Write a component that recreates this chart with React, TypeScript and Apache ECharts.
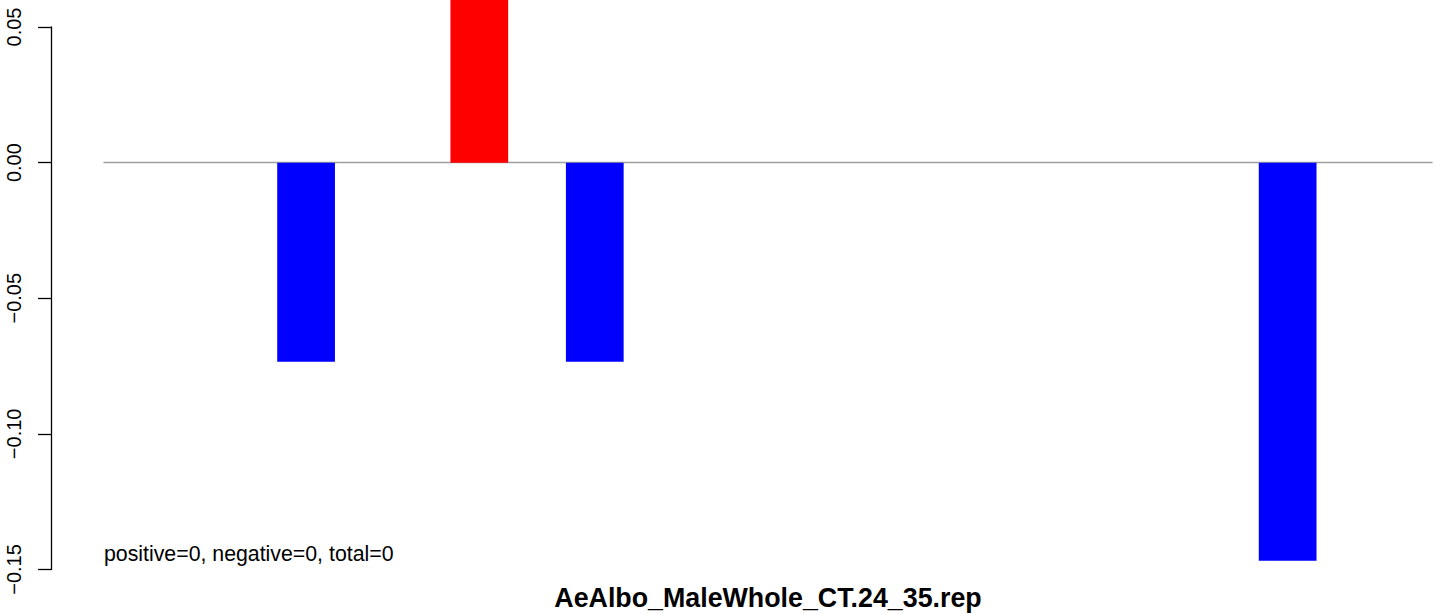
import React, { useEffect, useRef } from "react";
import * as echarts from "echarts";

const categories: string[] = Array.from({ length: 23 }, (_, i) => String(i + 1));
const values: number[] = [
  0, 0, 0, -0.0734, 0, 0, 0.0734, 0, -0.0734, 0, 0, 0,
  0, 0, 0, 0, 0, 0, 0, 0, -0.1468, 0, 0,
];
const yTicks = { min: -0.15, max: 0.05, interval: 0.05 };
const titleText = "AeAlbo_MaleWhole_CT.24_35.rep";
const noteText = "positive=0, negative=0, total=0";

const FONT = "'Liberation Sans', Arial, Helvetica, sans-serif";

export default function App() {
  const ref = useRef<HTMLDivElement>(null);
  useEffect(() => {
    if (!ref.current) return;
    const chart = echarts.init(ref.current, undefined, { renderer: "svg" });
    chart.setOption({
      animation: false,
      backgroundColor: "#ffffff",
      grid: { left: 104, right: 20, top: 27, bottom: 44.5, containLabel: false },
      xAxis: {
        type: "category",
        data: categories,
        axisLine: { show: true, onZero: true, lineStyle: { color: "#9e9e9e", width: 1.4 } },
        axisTick: { show: false },
        axisLabel: { show: false },
        splitLine: { show: false },
      },
      yAxis: {
        type: "value",
        min: yTicks.min,
        max: yTicks.max,
        interval: yTicks.interval,
        offset: 53,
        axisLine: { show: true, lineStyle: { color: "#000", width: 1.3 } },
        axisTick: { show: true, length: 13, lineStyle: { color: "#000", width: 1.3 } },
        axisLabel: {
          rotate: 90,
          margin: 27,
          color: "#000",
          fontFamily: FONT,
          fontSize: 20,
          formatter: (v: number) => v.toFixed(2).replace("-", "\u2212"),
        },
        splitLine: { show: false },
      },
      series: [
        {
          type: "bar",
          data: values,
          barCategoryGap: "0%",
          clip: false,
          itemStyle: {
            color: (p: any) => (p.value >= 0 ? "#ff0000" : "#0000ff"),
          },
        },
      ],
      graphic: [
        {
          type: "text",
          left: 104,
          top: 543,
          style: { text: noteText, font: `21.3px ${FONT}`, fill: "#000" },
        },
        {
          type: "text",
          x: 768,
          y: 598,
          style: {
            text: titleText,
            font: `bold 26.8px ${FONT}`,
            fill: "#000",
            align: "center",
            verticalAlign: "middle",
          },
        },
      ],
    });
    return () => chart.dispose();
  }, []);
  return (
    <div
      ref={ref}
      style={{ position: "absolute", left: 0, top: 0, width: 1452, height: 614 }}
    />
  );
}
